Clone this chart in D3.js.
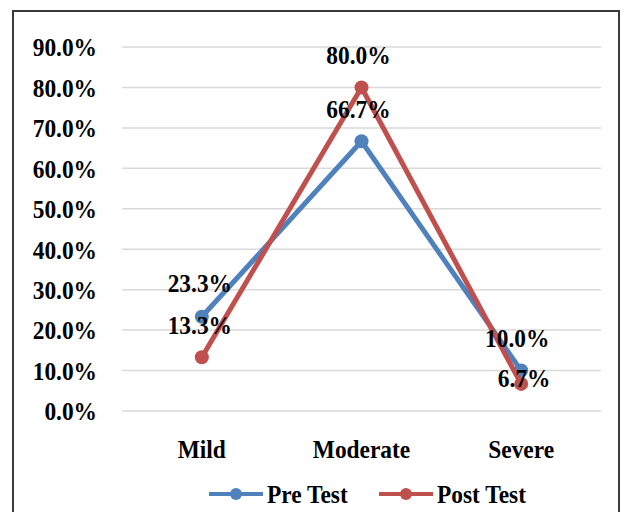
<!DOCTYPE html>
<html>
<head>
<meta charset="utf-8">
<script src="https://cdn.jsdelivr.net/npm/d3@7"></script>
<style>
  html, body { margin: 0; padding: 0; background: #fff; }
  svg { display: block; }
  text { font-family: "Liberation Serif", "Times New Roman", serif; font-weight: bold; fill: #000; }
</style>
</head>
<body>
<svg id="chart" width="624" height="512"></svg>
<script>
// Severity categories and the share of participants in each
const categories = ["Mild", "Moderate", "Severe"];
const preTest = [0.233, 0.667, 0.100];
const postTest = [0.133, 0.800, 0.067];
const seriesNames = ["Pre Test", "Post Test"];
const yTicks = [0, 0.1, 0.2, 0.3, 0.4, 0.5, 0.6, 0.7, 0.8, 0.9];

const colors = ["#4F81BD", "#C0504D"];
const series = [
  { name: seriesNames[0], values: preTest, color: colors[0] },
  { name: seriesNames[1], values: postTest, color: colors[1] }
];

const FONT_SIZE = 26;
const SQUEEZE = 0.9;

// Tall, slightly condensed bold serif text placed at (tx, ty)
function styleText(sel, tx, ty) {
  sel.attr("font-size", FONT_SIZE)
    .attr("font-family", "Liberation Serif, serif")
    .attr("font-weight", "bold")
    .attr("fill", "#000")
    .attr("dy", "0.34em")
    .attr("transform", (d, i) => `translate(${tx(d, i)},${ty(d, i)}) scale(${SQUEEZE},1)`)
    .attr("x", 0).attr("y", 0);
}

const svg = d3.select("#chart");

// Outer frame
svg.append("rect")
  .attr("x", 13).attr("y", 11)
  .attr("width", 606).attr("height", 530)
  .attr("fill", "#fff")
  .attr("stroke", "#3a3a3a")
  .attr("stroke-width", 2);

const x = d3.scaleBand().domain(categories).range([122, 601]);
const y = d3.scaleLinear().domain([0, 0.9]).range([411, 47]);
const cx = c => x(c) + x.bandwidth() / 2;

// Horizontal gridlines
svg.append("g")
  .selectAll("line")
  .data(yTicks)
  .join("line")
  .attr("x1", 122).attr("x2", 601)
  .attr("y1", d => y(d)).attr("y2", d => y(d))
  .attr("stroke", "#d9d9d9")
  .attr("stroke-width", 1.5);

// Y axis labels
const yAxis = d3.axisLeft(y)
  .tickValues(yTicks)
  .tickFormat(d3.format(".1%"))
  .tickSize(0)
  .tickPadding(0);
const yg = svg.append("g").attr("transform", "translate(97,0)").call(yAxis);
yg.select(".domain").remove();
yg.selectAll("text").call(styleText, () => 0, () => 0);

// Category labels
const xAxis = d3.axisBottom(x).tickSize(0).tickPadding(0);
const xg = svg.append("g").attr("transform", "translate(0,449)").call(xAxis);
xg.select(".domain").remove();
xg.selectAll("text").call(styleText, () => 0, () => 0);

// Lines and markers
const line = d3.line()
  .x((d, i) => cx(categories[i]))
  .y(d => y(d));

series.forEach(s => {
  svg.append("path")
    .datum(s.values)
    .attr("d", line)
    .attr("fill", "none")
    .attr("stroke", s.color)
    .attr("stroke-width", 5)
    .attr("stroke-linejoin", "round");
  svg.append("g")
    .selectAll("circle")
    .data(s.values)
    .join("circle")
    .attr("cx", (d, i) => cx(categories[i]))
    .attr("cy", d => y(d))
    .attr("r", 7)
    .attr("fill", s.color);
});

// Value labels, nudged so they clear the lines
const labelShift = [
  [{ dx: -2, dy: -34 }, { dx: -3, dy: -32 }, { dx: -4, dy: -32 }],
  [{ dx: -2, dy: -32 }, { dx: -3, dy: -32 }, { dx: 3, dy: -6 }]
];
const fmt = d3.format(".1%");
series.forEach((s, si) => {
  svg.append("g")
    .selectAll("text")
    .data(s.values)
    .join("text")
    .attr("text-anchor", "middle")
    .text(d => fmt(d))
    .call(styleText,
      (d, i) => cx(categories[i]) + labelShift[si][i].dx,
      (d, i) => y(d) + labelShift[si][i].dy);
});

// Legend
const legendItems = [
  { name: seriesNames[0], color: colors[0], x: 209 },
  { name: seriesNames[1], color: colors[1], x: 379 }
];
const lg = svg.append("g").attr("transform", "translate(0,494)");
legendItems.forEach(item => {
  const g = lg.append("g").attr("transform", `translate(${item.x},0)`);
  g.append("line")
    .attr("x1", 0).attr("x2", 54)
    .attr("y1", 0).attr("y2", 0)
    .attr("stroke", item.color)
    .attr("stroke-width", 4);
  g.append("circle").attr("cx", 27).attr("cy", 0).attr("r", 6).attr("fill", item.color);
  g.append("text")
    .text(item.name)
    .call(styleText, () => 58, () => 0);
});
</script>
</body>
</html>
